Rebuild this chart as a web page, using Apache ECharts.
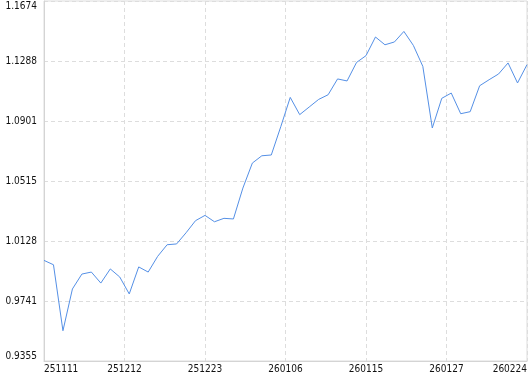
<!DOCTYPE html>
<html>
<head>
<meta charset="utf-8">
<script src="https://cdn.jsdelivr.net/npm/echarts@6/dist/echarts.min.js"></script>
<style>html,body{margin:0;padding:0;background:#fff;}#c{width:530px;height:374px;}</style>
</head>
<body>
<div id="c"></div>
<script>
var values = [
  1.0003, 0.9975, 0.9550, 0.9819, 0.9915, 0.9928, 0.9857, 0.9948, 0.9896, 0.9787,
  0.9961, 0.9928, 1.0029, 1.0104, 1.0109, 1.0181, 1.0259, 1.0293, 1.0252, 1.0274,
  1.0270, 1.0469, 1.0630, 1.0677, 1.0682, 1.0864, 1.1053, 1.0942, 1.0991, 1.1040,
  1.1070, 1.1172, 1.1159, 1.1278, 1.1322, 1.1442, 1.1392, 1.1410, 1.1478, 1.1388,
  1.1253, 1.0856, 1.1047, 1.1081, 1.0948, 1.0961, 1.1128, 1.1167, 1.1204, 1.1275,
  1.1146, 1.1264
];
var xTickLabels = ['251111', '251212', '251223', '260106', '260115', '260127', '260224'];
var yTickLabels = ['0.9355', '0.9741', '1.0128', '1.0515', '1.0901', '1.1288', '1.1674'];
var yMin = 0.9355, yMax = 1.1674;

var n = values.length;
var xInterval = (n - 1) / (xTickLabels.length - 1);
var yInterval = (yMax - yMin) / (yTickLabels.length - 1);
var seriesData = values.map(function (v, i) { return [i, v]; });

var chart = echarts.init(document.getElementById('c'), null, {renderer: 'canvas'});
var font = 'DejaVu Sans Condensed';
chart.setOption({
  animation: false,
  backgroundColor: '#ffffff',
  grid: {left: 44, right: 1, top: 1, bottom: 13, show: true, borderColor: '#dcdcdc', borderWidth: 1, containLabel: false},
  xAxis: {
    type: 'value', min: 0, max: n - 1, interval: xInterval,
    axisLine: {show: true, lineStyle: {color: '#d4d4d4'}},
    axisTick: {show: false},
    splitLine: {show: true, lineStyle: {color: '#dddddd', type: [4, 3]}},
    axisLabel: {
      color: '#111', fontFamily: font, fontSize: 10, margin: 3,
      alignMinLabel: 'left', alignMaxLabel: 'right',
      formatter: function (v) { return xTickLabels[Math.round(v / xInterval)] || ''; }
    }
  },
  yAxis: {
    type: 'value', min: yMin, max: yMax, interval: yInterval,
    axisLine: {show: true, lineStyle: {color: '#d4d4d4'}},
    axisTick: {show: false},
    splitLine: {show: true, lineStyle: {color: '#dddddd', type: [4, 3]}},
    axisLabel: {
      color: '#111', fontFamily: font, fontSize: 10, margin: 7,
      verticalAlignMinLabel: 'bottom', verticalAlignMaxLabel: 'top',
      formatter: function (v) { return yTickLabels[Math.round((v - yMin) / yInterval)] || ''; }
    }
  },
  series: [{
    type: 'line', data: seriesData, showSymbol: false, symbol: 'none',
    lineStyle: {color: '#5590e6', width: 1}
  }]
});
</script>
</body>
</html>
